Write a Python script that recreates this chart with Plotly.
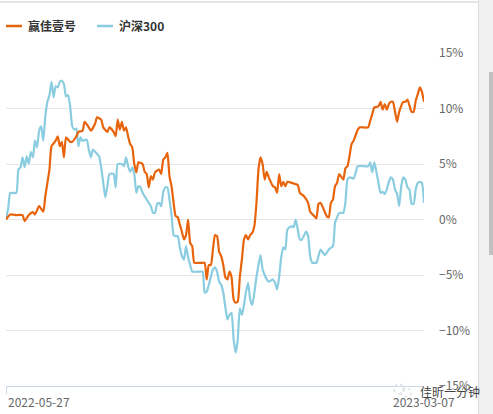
import pandas as pd
import plotly.graph_objects as go

# ---- data ----
start_date = "2022-05-27"
end_date = "2023-03-07"
dates = pd.bdate_range(start_date, end_date).strftime("%Y-%m-%d").tolist()

fund_name = "赢佳壹号"
index_name = "沪深300"

fund_idx = [0, 2, 5, 8, 9, 11, 13, 14, 16, 18, 19, 20, 21, 22, 24, 25, 26, 27, 28, 29, 31, 32, 34, 35, 37, 38,
            40, 41, 43, 44, 46, 47, 49, 50, 52, 53, 54, 55, 56, 57, 58, 59, 60, 61, 62, 63, 64, 66, 67, 68, 69,
            70, 71, 72, 74, 75, 76, 77, 78, 79, 80, 81, 82, 83, 84, 85, 86, 87, 88, 89, 90, 91, 93, 95, 96, 97,
            98, 99, 100, 101, 102, 103, 104, 105, 106, 107, 108, 109, 110, 111, 112, 113, 114, 115, 116, 117,
            118, 119, 120, 121, 122, 123, 124, 125, 126, 127, 129, 130, 131, 132, 133, 134, 135, 136, 138, 141,
            142, 144, 146, 147, 149, 150, 151, 152, 154, 155, 156, 157, 158, 159, 160, 161, 163, 164, 165, 166,
            167, 168, 170, 171, 175, 176, 177, 178, 180, 181, 182, 183, 184, 185, 186, 187, 188, 189, 190, 192,
            193, 194, 196, 197, 198, 199, 200, 201, 202]
fund_ret = [0.0, 0.45, 0.4, 0.4, -0.15, 0.4, 0.66, 0.45, 1.2, 0.7, 2.1, 3.3, 4.5, 6.6, 7.1, 7.5, 6.6, 7.0, 5.6,
            7.4, 7.0, 7.0, 7.5, 7.9, 8.0, 8.8, 8.3, 8.0, 8.6, 9.2, 9.0, 8.3, 7.9, 8.3, 7.9, 7.5, 9.0, 8.1, 8.8,
            8.0, 8.3, 7.5, 6.8, 6.5, 5.0, 4.25, 5.15, 5.0, 4.3, 4.1, 2.9, 3.9, 3.6, 4.25, 4.5, 4.1, 5.4, 5.6,
            6.0, 3.9, 3.0, 1.5, 0.3, 0.2, -0.45, -1.1, -1.8, -1.4, 0.0, -2.1, -2.4, -3.9, -3.9, -3.9, -3.9,
            -5.4, -4.1, -4.1, -2.7, -1.4, -1.5, -2.9, -3.3, -4.1, -5.2, -5.4, -4.7, -5.2, -7.2, -7.5, -7.4,
            -5.2, -3.6, -1.8, -1.4, -1.8, -1.4, -1.2, -0.6, 1.4, 4.5, 5.6, 5.0, 3.6, 4.3, 3.8, 3.0, 2.9, 2.4,
            4.1, 3.0, 3.4, 3.0, 3.4, 3.3, 3.1, 2.4, 2.1, 1.5, 0.7, 0.3, 0.1, 1.4, 1.5, 0.7, 0.3, 0.2, 1.5, 1.8,
            3.0, 3.3, 4.1, 3.6, 4.6, 4.8, 5.7, 6.8, 7.1, 8.1, 8.3, 8.3, 8.9, 9.5, 10.1, 10.2, 10.6, 9.9, 10.4,
            9.9, 10.4, 10.6, 10.6, 9.7, 8.8, 9.7, 10.6, 10.6, 10.8, 9.7, 9.7, 10.7, 11.3, 11.9, 11.5, 10.6]

index_idx = [0, 1, 2, 3, 5, 6, 7, 8, 9, 10, 11, 12, 13, 14, 15, 16, 17, 18, 19, 20, 21, 22, 23, 24, 25, 26, 27,
             28, 29, 30, 31, 32, 33, 34, 35, 36, 37, 39, 40, 41, 42, 44, 45, 46, 47, 48, 49, 50, 52, 53, 54, 56,
             57, 58, 59, 60, 61, 62, 63, 64, 65, 66, 67, 68, 70, 71, 72, 73, 74, 75, 76, 77, 78, 79, 80, 81, 82,
             83, 84, 85, 86, 87, 88, 89, 90, 93, 95, 96, 97, 98, 100, 101, 102, 103, 104, 105, 106, 107, 108,
             109, 110, 111, 112, 113, 114, 115, 116, 117, 118, 119, 120, 121, 122, 123, 124, 125, 126, 127, 129,
             130, 131, 132, 133, 134, 135, 136, 138, 139, 140, 141, 142, 143, 145, 146, 147, 148, 149, 150, 151,
             152, 154, 155, 156, 158, 159, 160, 161, 163, 164, 165, 166, 168, 169, 170, 175, 176, 177, 178, 179,
             180, 181, 182, 183, 184, 185, 186, 187, 188, 189, 190, 191, 192, 193, 194, 195, 196, 197, 198, 199,
             200, 201, 202]
index_ret = [0.2, 0.9, 2.4, 2.4, 2.4, 4.5, 4.7, 5.6, 4.7, 5.7, 5.0, 6.1, 5.6, 7.1, 6.5, 8.0, 8.4, 7.1, 9.3, 10.6,
             11.2, 12.4, 11.0, 12.0, 11.9, 12.4, 12.5, 12.2, 11.1, 11.2, 10.2, 8.4, 8.1, 8.2, 6.6, 7.4, 7.1, 7.2,
             6.3, 5.6, 6.3, 5.9, 5.7, 4.7, 3.3, 2.0, 3.0, 4.1, 4.1, 2.9, 5.0, 5.0, 4.8, 5.6, 4.8, 4.3, 4.7, 4.1,
             2.4, 3.0, 2.9, 2.4, 2.1, 1.8, 1.2, 0.6, 0.6, 1.4, 1.5, 1.2, 2.5, 2.9, 2.9, 1.8, 0.45, -1.4, -1.5,
             -1.5, -2.5, -3.3, -3.6, -2.4, -3.4, -4.1, -4.7, -4.7, -4.7, -6.6, -6.5, -5.9, -4.5, -4.3, -4.7,
             -5.6, -5.9, -6.6, -7.9, -9.0, -8.6, -8.4, -10.8, -12.0, -10.8, -8.0, -8.6, -7.7, -6.5, -5.7, -7.2,
             -7.7, -6.6, -5.2, -4.1, -3.2, -4.5, -5.0, -5.4, -5.6, -5.4, -5.7, -6.3, -5.2, -3.4, -2.5, -2.7,
             -0.9, -0.6, -0.7, 0.0, -0.9, -1.8, -1.8, -1.1, -1.5, -3.3, -3.9, -3.9, -3.9, -3.3, -2.7, -3.2,
             -3.0, -2.7, -2.4, -0.3, 0.2, 0.6, 0.6, 1.5, 3.6, 3.8, 3.7, 4.25, 4.8, 4.8, 5.15, 4.25, 5.15, 4.3,
             3.3, 2.4, 2.5, 2.3, 2.7, 3.4, 3.8, 3.6, 2.7, 2.3, 1.2, 3.0, 3.8, 3.6, 2.9, 2.7, 1.4, 1.4, 2.7,
             3.3, 3.4, 3.3, 1.5]

y_ticks = [-15, -10, -5, 0, 5, 10, 15]
y_ticktext = ["−15%", "−10%", "−5%", "0%", "5%", "10%", "15%"]
watermark = "佳昕一分钟"

# ---- styling ----
W, H = 493, 414
ML, MR, MT, MB = 6, 69, 53, 28
PW, PH = W - ML - MR, H - MT - MB
ORANGE = "#e8640c"
BLUE = "#8acde0"
FONT = "Noto Sans CJK SC"


def pxx(x):
    return (x - ML) / PW


def pxy(y):
    return (H - MB - y) / PH


fig = go.Figure()
fig.add_trace(go.Scatter(x=[dates[i] for i in index_idx], y=index_ret, mode="lines",
                         name=index_name, line=dict(color=BLUE, width=2.2, shape="spline", smoothing=0.5),
                         showlegend=False))
fig.add_trace(go.Scatter(x=[dates[i] for i in fund_idx], y=fund_ret, mode="lines",
                         name=fund_name, line=dict(color=ORANGE, width=2.2, shape="spline", smoothing=0.5),
                         showlegend=False))

shapes = []
annotations = []

# legend
for x0, color, label in [(6, ORANGE, fund_name), (97, BLUE, index_name)]:
    shapes.append(dict(type="line", xref="paper", yref="paper", x0=pxx(x0), x1=pxx(x0 + 16),
                       y0=pxy(26), y1=pxy(26), line=dict(color=color, width=2.5)))
    annotations.append(dict(xref="paper", yref="paper", x=pxx(x0 + 20), y=pxy(26), xanchor="left",
                            yanchor="middle", showarrow=False, text="<b>" + label + "</b>",
                            font=dict(family=FONT, size=12, color="#333333")))

# x date labels
annotations.append(dict(xref="paper", yref="paper", x=pxx(6), y=pxy(401), xanchor="left", yanchor="middle",
                        showarrow=False, text=dates[0], font=dict(family=FONT, size=12, color="#666666")))
annotations.append(dict(xref="paper", yref="paper", x=pxx(423.5), y=pxy(401), xanchor="center",
                        yanchor="middle", showarrow=False, text=dates[-1],
                        font=dict(family=FONT, size=12, color="#666666")))
shapes.append(dict(type="line", xref="paper", yref="paper", x0=pxx(6.5), x1=pxx(6.5), y0=pxy(386), y1=pxy(394),
                   line=dict(color="#ccd6eb", width=1)))

# screenshot frame: top line and scrollbar
shapes.append(dict(type="line", xref="paper", yref="paper", x0=pxx(0), x1=pxx(478), y0=pxy(2), y1=pxy(2),
                   line=dict(color="#dddddd", width=1.5)))
shapes.append(dict(type="rect", xref="paper", yref="paper", x0=pxx(478), x1=pxx(493), y0=pxy(0), y1=pxy(414),
                   fillcolor="#f1f1f1", line=dict(width=0), layer="above"))
shapes.append(dict(type="line", xref="paper", yref="paper", x0=pxx(478.5), x1=pxx(478.5), y0=pxy(0),
                   y1=pxy(414), line=dict(color="#dcdcdc", width=1), layer="above"))
shapes.append(dict(type="rect", xref="paper", yref="paper", x0=pxx(489), x1=pxx(493), y0=pxy(72), y1=pxy(255),
                   fillcolor="#c1c1c1", line=dict(width=0), layer="above"))

# watermark
shapes.append(dict(type="circle", xref="paper", yref="paper", x0=pxx(394), x1=pxx(404), y0=pxy(394),
                   y1=pxy(384), line=dict(color="#cfcfcf", width=1, dash="dot"), layer="above"))
shapes.append(dict(type="circle", xref="paper", yref="paper", x0=pxx(401), x1=pxx(411), y0=pxy(397),
                   y1=pxy(388), line=dict(color="#cfcfcf", width=1, dash="dot"), layer="above"))
annotations.append(dict(xref="paper", yref="paper", x=pxx(418), y=pxy(391), xanchor="left", yanchor="middle",
                        showarrow=False, text=watermark, font=dict(family=FONT, size=12, color="#444444")))

fig.update_layout(
    width=W, height=H,
    margin=dict(l=ML, r=MR, t=MT, b=MB, pad=0),
    paper_bgcolor="white", plot_bgcolor="white",
    showlegend=False,
    shapes=shapes, annotations=annotations,
    xaxis=dict(type="category", categoryorder="array", categoryarray=dates,
               range=[0, len(dates) - 1], showticklabels=False, ticks="", showgrid=False,
               showline=True, linecolor="#ccd6eb", linewidth=1, zeroline=False, fixedrange=True),
    yaxis=dict(side="right", range=[-15, 15], tickmode="array", tickvals=y_ticks, ticktext=y_ticktext,
               showgrid=True, gridcolor="#e6e6e6", gridwidth=1, zeroline=False, ticks="",
               ticklabelstandoff=14, tickfont=dict(family=FONT, size=12, color="#666666"),
               showline=False, fixedrange=True),
)

fig.write_html("out.html")
